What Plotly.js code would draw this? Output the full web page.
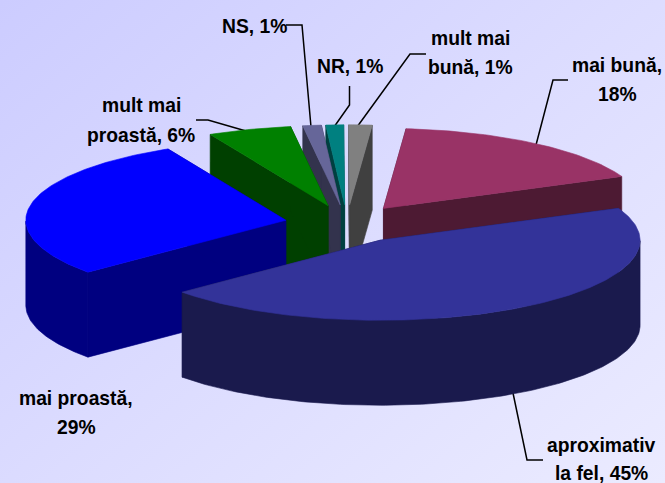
<!DOCTYPE html>
<html><head><meta charset="utf-8">
<script src="https://cdn.plot.ly/plotly-3.0.1.min.js"></script>
<style>
html,body{margin:0;padding:0;width:665px;height:483px;overflow:hidden;background:linear-gradient(140deg,#CCCCFF 0%,#DCDCFF 50%,#EBEBFF 100%);}
#c{width:665px;height:483px;}
</style></head><body><div id="c"></div>
<script>
const categories = ["mai bună","aproximativ la fel","mai proastă","mult mai proastă","NS","NR","mult mai bună"];
const shares     = [17.1,45.4,28.8,5.2,1.15,1.1,1.45];
const labelLines = [["mai bună,","18%"],["aproximativ","la fel, 45%"],["mai proastă,","29%"],["mult mai","proastă, 6%"],["NS, 1%"],["NR, 1%"],["mult mai","bună, 1%"]];
const topColors  = ["#993366","#333399","#0000FF","#008000","#666699","#008080","#808080"];
const sideColors = ["#4D1A33","#1A1A4D","#000080","#004000","#33334D","#004040","#404040"];

// Geometry of the exploded 3-D pie
const CX=347, CY=224, RX=260, RY=80, DEPTH=85, EXPLODE=0.24, START=5;
const paintOrder=[6,5,4,3,0,2,1];
const labelPos=[[617,[65,94]],[601,[445,473]],[76,[398,427]],[141,[105,135]],[254,[26]],[350,[66]],[470,[38,67]]];
const leaders=[
 "M568,80 L553,80 L536,145","M543,460 L527,460 L513,393","M196,120 L208,120 L246,131",
 "M286,25 L302,25 L311,127","M349.5,86 L349.5,105 L334,127","M426,54 L410,54 L357,127"];

const total=shares.reduce((a,b)=>a+b,0);
const rad=d=>d*Math.PI/180;
let ang=START;
const wedges=shares.map(s=>{const a0=ang,a1=ang+s/total*360;ang=a1;return [a0,a1];});
const traces=[];
function poly(xs,ys,color){
  traces.push({type:"scatter",mode:"lines",x:xs,y:ys,fill:"toself",fillcolor:color,
    line:{color:color,width:0.6},hoverinfo:"skip",showlegend:false});
}
paintOrder.forEach(i=>{
  const [a0,a1]=wedges[i], mid=rad((a0+a1)/2);
  const ax=CX+EXPLODE*RX*Math.sin(mid), ay=CY-EXPLODE*RY*Math.cos(mid);
  const rx=[],ry=[],fx=[],fy=[];
  const n=Math.max(2,Math.ceil(a1-a0));
  for(let k=0;k<=n;k++){
    const t=rad(a0+(a1-a0)*k/n), x=ax+RX*Math.sin(t), y=ay-RY*Math.cos(t);
    rx.push(x);ry.push(y);
    if(Math.cos(t)<=0){fx.push(x);fy.push(y);}
  }
  const last=rx.length-1;
  poly([ax,rx[0],rx[0],ax,ax],[ay,ry[0],ry[0]+DEPTH,ay+DEPTH,ay],sideColors[i]);
  poly([ax,rx[last],rx[last],ax,ax],[ay,ry[last],ry[last]+DEPTH,ay+DEPTH,ay],sideColors[i]);
  if(fx.length>1) poly(fx.concat(fx.slice().reverse(),[fx[0]]),fy.concat(fy.slice().reverse().map(v=>v+DEPTH),[fy[0]]),sideColors[i]);
  poly([ax].concat(rx,[ax]),[ay].concat(ry,[ay]),topColors[i]);
});

const annotations=[];
labelLines.forEach((lines,i)=>lines.forEach((t,j)=>annotations.push({
  x:labelPos[i][0],y:labelPos[i][1][j],xref:"x",yref:"y",showarrow:false,xanchor:"center",yanchor:"middle",
  font:{family:"Liberation Sans",size:19.3,color:"#000000"},
  text:"<b>"+t+"</b>"})));
const shapes=leaders.map(p=>({type:"path",path:p,xref:"x",yref:"y",layer:"below",line:{color:"#000000",width:1.5}}));

Plotly.newPlot("c",traces,{
  width:665,height:483,margin:{l:0,r:0,t:0,b:0},
  paper_bgcolor:"rgba(0,0,0,0)",plot_bgcolor:"rgba(0,0,0,0)",
  xaxis:{range:[0,665],visible:false,fixedrange:true},
  yaxis:{range:[483,0],visible:false,fixedrange:true},
  showlegend:false,annotations,shapes
},{displayModeBar:false,staticPlot:true});
</script></body></html>
